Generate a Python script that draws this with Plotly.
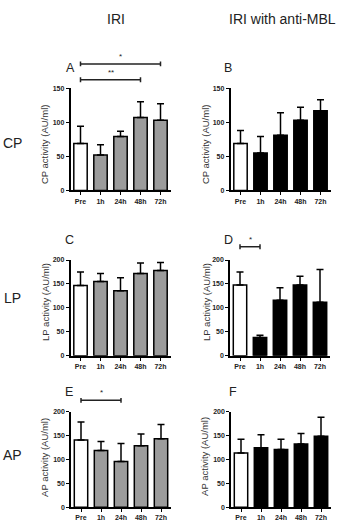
import plotly.graph_objects as go

W, H = 351, 526

categories = ["Pre", "1h", "24h", "48h", "72h"]

# Panel values (mean) and upper error (SD)
cp_iri_mean = [69, 52, 79, 107, 103]
cp_iri_err = [25, 15, 8, 23, 24]
cp_mbl_mean = [69, 55, 81, 103, 117]
cp_mbl_err = [19, 24, 33, 19, 16]

lp_iri_mean = [147, 155, 136, 172, 178]
lp_iri_err = [28, 17, 27, 22, 17]
lp_mbl_mean = [148, 38, 116, 148, 112]
lp_mbl_err = [27, 5, 26, 18, 68]

ap_iri_mean = [141, 119, 96, 129, 144]
ap_iri_err = [38, 19, 38, 25, 30]
ap_mbl_mean = [114, 125, 121, 133, 149]
ap_mbl_err = [29, 27, 22, 22, 40]

cp_ticks = [0, 50, 100, 150]
lp_ticks = [0, 50, 100, 150, 200]
ap_ticks = [0, 50, 100, 150, 200]

col_titles = ["IRI", "IRI with anti-MBL"]
row_labels = ["CP", "LP", "AP"]
panel_letters = ["A", "B", "C", "D", "E", "F"]
y_titles = ["CP activity (AU/ml)", "LP activity (AU/ml)", "AP activity (AU/ml)"]

# significance brackets: (from, to, label)
sig_A = [("Pre", "72h", "*"), ("Pre", "48h", "**")]
sig_D = [("Pre", "1h", "*")]
sig_E = [("Pre", "24h", "*")]

PRE_COLOR = "white"
IRI_COLOR = "#9c9c9c"
MBL_COLOR = "#000000"
FONT = "Liberation Sans, Arial, sans-serif"


def px_x(px):
    return px / W


def px_y(py):
    return 1 - py / H


# plot-area pixel boxes (left, right, top, bottom)
boxes = [
    (70.5, 170.5, 85.3, 189.0),
    (230.5, 330.5, 85.3, 189.0),
    (70.5, 170.5, 259.5, 356.5),
    (230.0, 330.0, 259.5, 356.5),
    (71.0, 171.0, 413.5, 510.0),
    (231.0, 331.0, 413.5, 510.0),
]

panels = [
    (cp_iri_mean, cp_iri_err, IRI_COLOR, cp_ticks),
    (cp_mbl_mean, cp_mbl_err, MBL_COLOR, cp_ticks),
    (lp_iri_mean, lp_iri_err, IRI_COLOR, lp_ticks),
    (lp_mbl_mean, lp_mbl_err, MBL_COLOR, lp_ticks),
    (ap_iri_mean, ap_iri_err, IRI_COLOR, ap_ticks),
    (ap_mbl_mean, ap_mbl_err, MBL_COLOR, ap_ticks),
]

fig = go.Figure()
layout = dict(
    width=W, height=H, margin=dict(l=0, r=0, t=0, b=0),
    paper_bgcolor="white", plot_bgcolor="white", showlegend=False,
    bargap=0.33, font=dict(family=FONT, color="#222"),
)
annotations = []
shapes = []

for i, ((mean, err, color, ticks), box) in enumerate(zip(panels, boxes)):
    n = i + 1
    xa = "x" if n == 1 else f"x{n}"
    ya = "y" if n == 1 else f"y{n}"
    colors = [PRE_COLOR] + [color] * (len(categories) - 1)
    fig.add_trace(go.Bar(
        x=categories, y=mean, xaxis=xa, yaxis=ya,
        marker=dict(color=colors, line=dict(color="black", width=1.5)),
        error_y=dict(type="data", symmetric=False, array=err,
                     arrayminus=[0] * len(err), color="black",
                     thickness=1.5, width=3.5),
    ))
    l, r, t, b = box
    xkey = "xaxis" if n == 1 else f"xaxis{n}"
    ykey = "yaxis" if n == 1 else f"yaxis{n}"
    layout[xkey] = dict(
        domain=[px_x(l), px_x(r)], anchor=ya, type="category",
        range=[-0.5, len(categories) - 0.5],
        showline=True, linecolor="black", linewidth=1.5,
        ticks="outside", ticklen=3, tickwidth=1, tickcolor="black",
        tickfont=dict(size=7, family=FONT, color="#222", weight="bold"),
        showgrid=False, zeroline=False, fixedrange=True,
    )
    layout[ykey] = dict(
        domain=[px_y(b), px_y(t)], anchor=xa,
        range=[0, max(ticks)], tickvals=ticks,
        showline=True, linecolor="black", linewidth=1.5,
        ticks="outside", ticklen=3, tickwidth=1, tickcolor="black",
        tickfont=dict(size=7, family=FONT, color="#222", weight="bold"),
        showgrid=False, zeroline=False, fixedrange=True,
    )

# y axis titles (x pixel centres)
ytitle_x = [44, 205, 46, 207, 45, 205]
row_mid = [142, 302, 459]
for i in range(6):
    annotations.append(dict(
        text=y_titles[i // 2], x=px_x(ytitle_x[i]), y=px_y(row_mid[i // 2]),
        xref="paper", yref="paper", textangle=-90, showarrow=False,
        xanchor="center", yanchor="middle",
        font=dict(size=9.5, family=FONT, color="#333"),
    ))

# panel letters
letter_pos = [(70, 65), (228.5, 65), (69, 239), (228, 239), (68.5, 393), (233, 393)]
for letter, (lx, ly) in zip(panel_letters, letter_pos):
    annotations.append(dict(
        text=letter, x=px_x(lx), y=px_y(ly), xref="paper", yref="paper",
        showarrow=False, xanchor="center", yanchor="middle",
        font=dict(size=12.5, family=FONT, color="#222"),
    ))

# row labels
row_label_y = [141, 298, 457]
for lab, ry in zip(row_labels, row_label_y):
    annotations.append(dict(
        text=lab, x=px_x(12), y=px_y(ry), xref="paper", yref="paper",
        showarrow=False, xanchor="center", yanchor="middle",
        font=dict(size=14, family=FONT, color="#222"),
    ))

# column titles
for title, cx in zip(col_titles, [116, 282]):
    annotations.append(dict(
        text=title, x=px_x(cx), y=px_y(15), xref="paper", yref="paper",
        showarrow=False, xanchor="center", yanchor="middle",
        font=dict(size=14, family=FONT, color="#222"),
    ))


# significance brackets
def bracket(xref, sig, py):
    a, b, label = sig
    ia, ib = categories.index(a), categories.index(b)
    yy = px_y(py)
    cap = 2.5 / H
    shapes.append(dict(type="line", xref=xref, yref="paper", x0=ia, x1=ib,
                       y0=yy, y1=yy, line=dict(color="#222", width=1.5)))
    for xv in (ia, ib):
        shapes.append(dict(type="line", xref=xref, yref="paper", x0=xv, x1=xv,
                           y0=yy - cap, y1=yy + cap,
                           line=dict(color="#222", width=1.5)))
    annotations.append(dict(
        text=label, x=(ia + ib) / 2, y=yy + 1 / H, xref=xref, yref="paper",
        showarrow=False, xanchor="center", yanchor="bottom",
        font=dict(size=8, family=FONT, color="#222"),
    ))


bracket("x", sig_A[0], 60.7)
bracket("x", sig_A[1], 76.7)
bracket("x4", sig_D[0], 246)
bracket("x5", sig_E[0], 401.7)

layout["annotations"] = annotations
layout["shapes"] = shapes
fig.update_layout(**layout)
fig.write_html("out.html")
